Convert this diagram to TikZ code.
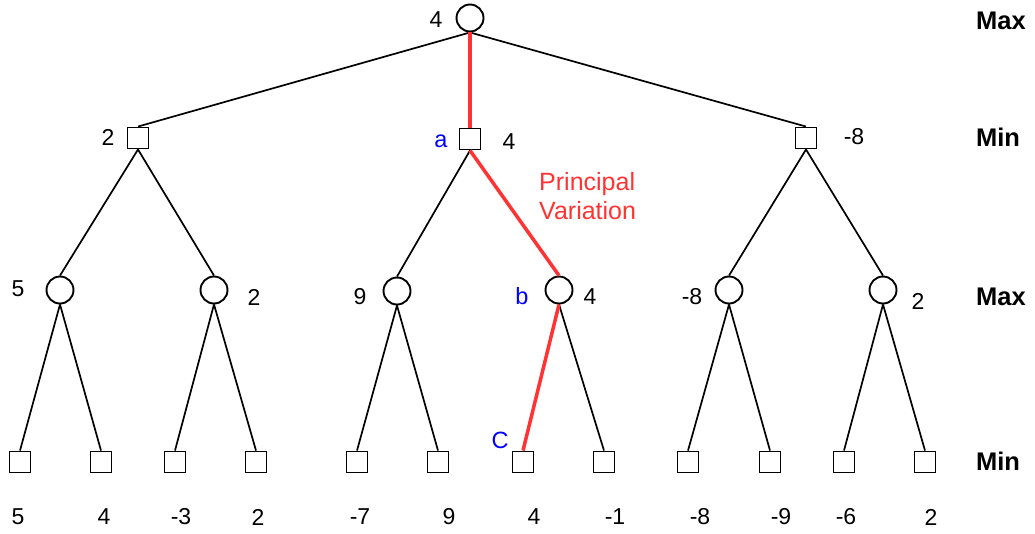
\documentclass[tikz,border=0pt]{standalone}
\usepackage{fontspec}
\setmainfont{Liberation Sans}
\definecolor{pvred}{HTML}{FF3333}
\definecolor{lblue}{HTML}{0000FF}
\begin{document}
\begin{tikzpicture}[x=1pt,y=-1pt,
  maxnode/.style={circle,draw,line width=1.9pt,minimum size=27pt,inner sep=0pt},
  minnode/.style={rectangle,draw,line width=1.9pt,minimum size=21pt,inner sep=0pt},
  val/.style={inner sep=0pt,font=\fontsize{23}{27}\selectfont},
  lbl/.style={inner sep=0pt,text=lblue,font=\fontsize{23.5}{27}\selectfont},
  lvl/.style={inner sep=0pt,font=\fontsize{25.5}{30}\selectfont\bfseries},
  edge/.style={line width=1.7pt},
  pv/.style={line width=3.5pt,pvred}]
\useasboundingbox (0,0) rectangle (1035,533);
% nodes
\node[maxnode] (r) at (470,18) {};
\node[minnode] (m1) at (138,138) {};
\node[minnode] (m2) at (470,139) {};
\node[minnode] (m3) at (806,138) {};
\node[maxnode] (x1) at (60,290) {};
\node[maxnode] (x2) at (214,290) {};
\node[maxnode] (x3) at (397,291) {};
\node[maxnode] (x4) at (559,290) {};
\node[maxnode] (x5) at (729,290) {};
\node[maxnode] (x6) at (883,290) {};
\foreach \i/\x in {1/20,2/101,3/175,4/256,5/357,6/438,7/523,8/604,9/688,10/770,11/844,12/925}
  \node[minnode] (l\i) at (\x,462) {};
% edges
\draw[edge] (r.south) -- (m1.north);
\draw[edge] (r.south) -- (m3.north);
\draw[edge] (m1.south) -- (x1.north);
\draw[edge] (m1.south) -- (x2.north);
\draw[edge] (m2.south) -- (x3.north);
\draw[edge] (m3.south) -- (x5.north);
\draw[edge] (m3.south) -- (x6.north);
\draw[edge] (x1.south) -- (l1.north);
\draw[edge] (x1.south) -- (l2.north);
\draw[edge] (x2.south) -- (l3.north);
\draw[edge] (x2.south) -- (l4.north);
\draw[edge] (x3.south) -- (l5.north);
\draw[edge] (x3.south) -- (l6.north);
\draw[edge] (x4.south) -- (l8.north);
\draw[edge] (x5.south) -- (l9.north);
\draw[edge] (x5.south) -- (l10.north);
\draw[edge] (x6.south) -- (l11.north);
\draw[edge] (x6.south) -- (l12.north);
\draw[pv] (r.south) -- (m2.north);
\draw[pv] (m2.south) -- (x4.north);
\draw[pv] (x4.south) -- (l7.north);
% value labels
\node[val] (vr) at (436,20) {4};
\node[val] (v1) at (108,137) {2};
\node[val] (v2) at (509,142) {4};
\node[val] (v3) at (854,137) {-8};
\node[val] (w1) at (18,289) {5};
\node[val] (w2) at (254,297) {2};
\node[val] (w3) at (360,297) {9};
\node[val] (w4) at (590,297) {4};
\node[val] (w5) at (692,297) {-8};
\node[val] (w6) at (918,301) {2};
\foreach \i/\x/\v in {1/18/5,2/104/4,3/181/-3,4/258/2,5/360/-7,6/449/9,7/534/4,8/615/-1,9/700/-8,10/781/-9,11/846/-6,12/931/2}
  \node[val] (t\i) at (\x,517) {\v};
% letters
\node[lbl] (la) at (441,141) {a};
\node[lbl] (lb) at (522,296) {b};
\node[lbl] (lc) at (500,440) {C};
% principal variation
\node[inner sep=0pt,anchor=base west,text=pvred,font=\fontsize{25}{29}\selectfont] (pv1) at (539,190) {Principal};
\node[inner sep=0pt,anchor=base west,text=pvred,font=\fontsize{25}{29}\selectfont] (pv2) at (539,219) {Variation};
% level labels
\node[lvl] (L1) at (1001,21) {Max};
\node[lvl] (L2) at (998,137) {Min};
\node[lvl] (L3) at (1001,297) {Max};
\node[lvl] (L4) at (998,461) {Min};
\end{tikzpicture}
\end{document}
